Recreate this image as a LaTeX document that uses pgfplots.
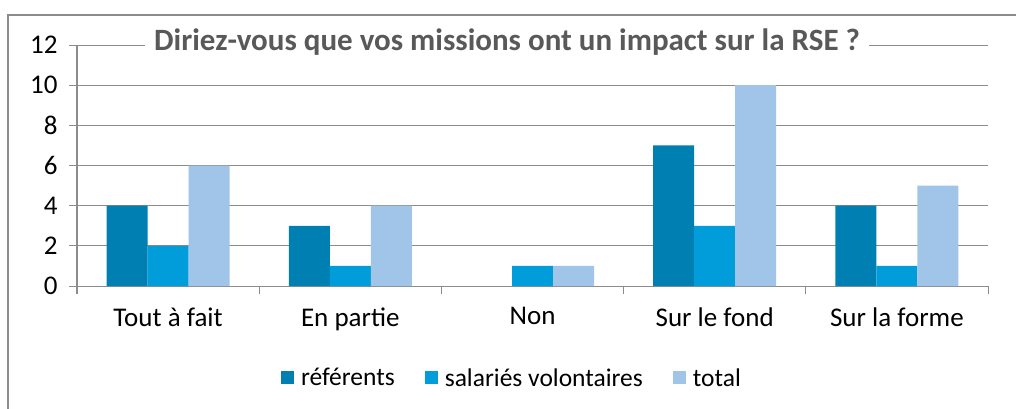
\documentclass[border=0pt]{standalone}
\usepackage{pgfplots}
\pgfplotsset{compat=1.18}
\usepackage{fontspec}
\setmainfont{Carlito}
\definecolor{cdark}{RGB}{0,128,178}
\definecolor{cmid}{RGB}{0,157,218}
\definecolor{clight}{RGB}{160,197,232}
\definecolor{cgrid}{RGB}{140,140,140}
\definecolor{ctitle}{RGB}{89,89,89}
\begin{document}
\begin{tikzpicture}[x=1pt,y=1pt]
\useasboundingbox (0,0) rectangle (1016,408);
\clip (0,0) rectangle (1016,408);
\fill[white] (0,0) rectangle (1016,408);
\draw[cgrid, line width=1.6pt] (8,-20) -- (8,393) -- (1040,393);
\begin{axis}[
  at={(77pt,122pt)}, anchor=south west,
  scale only axis, width=911pt, height=241pt,
  xmin=-0.5, xmax=4.5, ymin=0, ymax=12,
  ybar=0pt, bar width=41pt,
  ytick={0,2,...,12},
  xtick={0,1,2,3,4},
  xticklabels={Tout à fait, En partie, Non, Sur le fond, Sur la forme},
  minor xtick={-0.5,0.5,1.5,2.5,3.5,4.5},
  major x tick style={draw=none},
  tick align=outside,
  major tick length=8pt, minor tick length=8pt,
  tick style={cgrid, line width=1pt},
  axis lines*=left,
  axis line style={cgrid, line width=1pt},
  ymajorgrids, grid style={cgrid, line width=1pt},
  /pgf/number format/assume math mode=true,
  tick label style={font=\fontsize{27}{32}\selectfont, text=black},
  yticklabel style={anchor=east, xshift=-8pt},
  xticklabel style={yshift=-10pt},
  legend columns=3,
  legend style={at={(axis description cs:0.4764,-0.3817)}, anchor=center,
    draw=none, fill=none, font=\fontsize{25.5}{30}\selectfont,
    /tikz/every even column/.append style={column sep=30pt},
    nodes={inner sep=0pt, outer sep=0pt},
    /tikz/every odd column/.append style={column sep=7pt}},
  every axis plot/.append style={legend image code/.code={\fill[##1] (0pt,-6.5pt) rectangle (13pt,6.5pt);}},
]
\addplot[fill=cdark, draw=none] coordinates {(0,4) (1,3) (3,7) (4,4)};
\addplot[fill=cmid, draw=none] coordinates {(0,2) (1,1) (2,1) (3,3) (4,1)};
\addplot[fill=clight, draw=none] coordinates {(0,6) (1,4) (2,1) (3,10) (4,5)};
\legend{référents, salariés volontaires, total}
\end{axis}
\node[fill=white, anchor=base, inner xsep=9pt, inner ysep=3pt, text=ctitle,
  font=\fontsize{31}{37}\selectfont\bfseries] at (507,357)
  {Diriez-vous que vos missions ont un impact sur la RSE ?};
\end{tikzpicture}
\end{document}
